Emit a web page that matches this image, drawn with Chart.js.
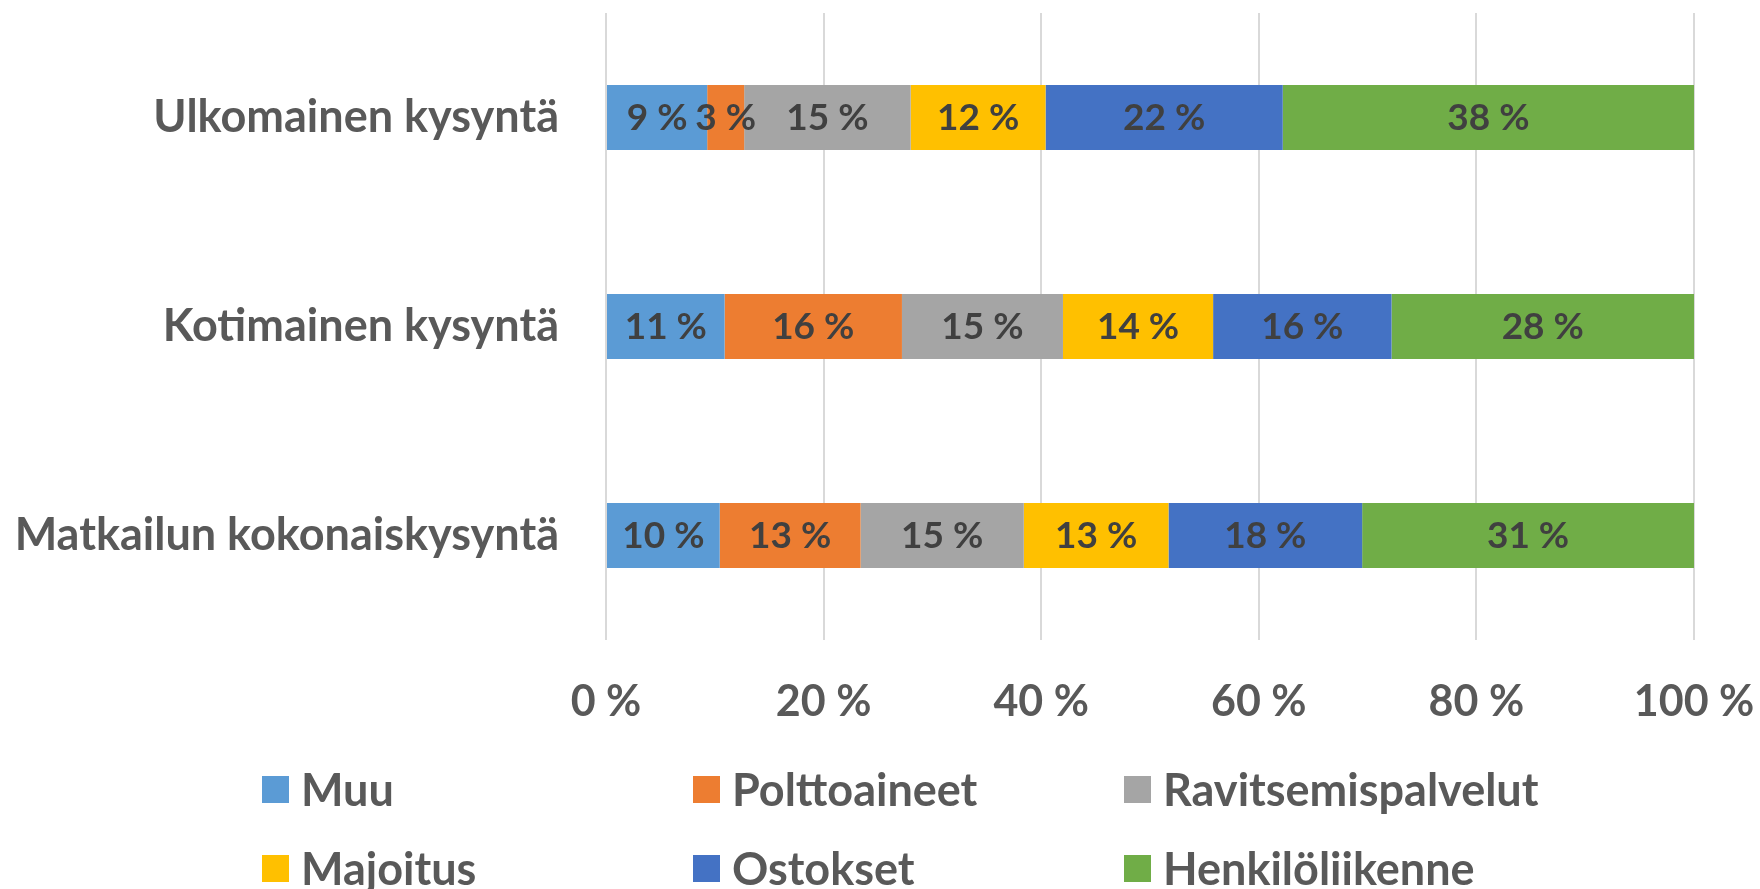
<!DOCTYPE html>
<html>
<head>
<meta charset="utf-8">
<script src="https://cdn.jsdelivr.net/npm/chart.js@4.4.0/dist/chart.umd.min.js"></script>
<style>
    html, body { margin: 0; padding: 0; background: #fff; }
    #wrap { position: relative; width: 1760px; height: 889px; overflow: hidden; }
    #chart { position: absolute; left: 0; top: 0; }
    .leg { position: absolute; display: flex; align-items: center; font: bold 45px Lato; color: #595959; white-space: nowrap; }
    .leg span.box { display: inline-block; width: 27px; height: 27px; margin-right: 12px; }
</style>
</head>
<body>
<div id="wrap">
    <canvas id="chart" width="1760" height="889"></canvas>
</div>
<script>
const categories = ["Ulkomainen kysyntä", "Kotimainen kysyntä", "Matkailun kokonaiskysyntä"];

const muu = [9.3, 10.9, 10.45];
const polttoaineet = [3.4, 16.3, 12.95];
const ravitsemispalvelut = [15.3, 14.8, 15.0];
const majoitus = [12.4, 13.8, 13.3];
const ostokset = [21.8, 16.4, 17.8];
const henkiloliikenne = [37.8, 27.8, 30.5];

const xTicks = [0, 20, 40, 60, 80, 100];

function makeSet(label, data, color) {
    return {
        label: label,
        data: data,
        backgroundColor: color,
        borderWidth: 0,
        categoryPercentage: 1,
        barPercentage: 0.311
    };
}

const barLabels = {
    id: "barLabels",
    afterDatasetsDraw(chart) {
        const ctx = chart.ctx;
        ctx.save();
        ctx.font = "bold 37px Lato";
        ctx.fillStyle = "#404040";
        ctx.textAlign = "center";
        ctx.textBaseline = "middle";
        chart.data.datasets.forEach((ds, i) => {
            chart.getDatasetMeta(i).data.forEach((bar, j) => {
                const p = bar.getCenterPoint();
                ctx.fillText(Math.round(ds.data[j]) + " %", p.x, p.y + 1);
            });
        });
        ctx.restore();
    }
};

const datasets = [
    makeSet("Muu", muu, "#5B9BD5"),
    makeSet("Polttoaineet", polttoaineet, "#ED7D31"),
    makeSet("Ravitsemispalvelut", ravitsemispalvelut, "#A5A5A5"),
    makeSet("Majoitus", majoitus, "#FFC000"),
    makeSet("Ostokset", ostokset, "#4472C4"),
    makeSet("Henkilöliikenne", henkiloliikenne, "#70AD47")
];

function drawChart() {
    new Chart(document.getElementById("chart"), {
        type: "bar",
        data: { labels: categories, datasets: datasets },
        plugins: [barLabels],
        options: {
            indexAxis: "y",
            responsive: false,
            animation: false,
            layout: { padding: { left: 0, top: 13, right: 66, bottom: 149 } },
            plugins: { legend: { display: false }, tooltip: { enabled: false } },
            scales: {
                x: {
                    stacked: true,
                    min: 0,
                    max: 100,
                    afterBuildTicks: (scale) => { scale.ticks = xTicks.map(v => ({ value: v })); },
                    afterFit: (scale) => {
                        scale.height = 100;
                        scale.paddingLeft = 0;
                        scale.paddingRight = 0;
                    },
                    grid: { color: "#D9D9D9", lineWidth: 2, drawTicks: false },
                    border: { display: false },
                    ticks: {
                        padding: 36,
                        color: "#595959",
                        font: { family: "Lato", size: 43, weight: "bold" },
                        callback: (v) => v + " %"
                    }
                },
                y: {
                    stacked: true,
                    afterFit: (scale) => {
                        scale.width = 606;
                        scale.paddingTop = 0;
                        scale.paddingBottom = 0;
                    },
                    grid: { display: false, drawTicks: false },
                    border: { display: false },
                    ticks: {
                        padding: 47,
                        color: "#595959",
                        font: { family: "Lato", size: 45, weight: "bold" }
                    }
                }
            }
        }
    });

    const wrap = document.getElementById("wrap");
    datasets.forEach((ds, i) => {
        const col = i % 3, row = Math.floor(i / 3);
        const item = document.createElement("div");
        item.className = "leg";
        item.style.left = (262 + col * 431) + "px";
        item.style.top = (789 + row * 79 - 30) + "px";
        item.style.height = "60px";
        const box = document.createElement("span");
        box.className = "box";
        box.style.background = ds.backgroundColor;
        item.appendChild(box);
        item.appendChild(document.createTextNode(ds.label));
        wrap.appendChild(item);
    });
}

document.fonts.load("bold 40px Lato").then(drawChart, drawChart);
</script>
</body>
</html>
